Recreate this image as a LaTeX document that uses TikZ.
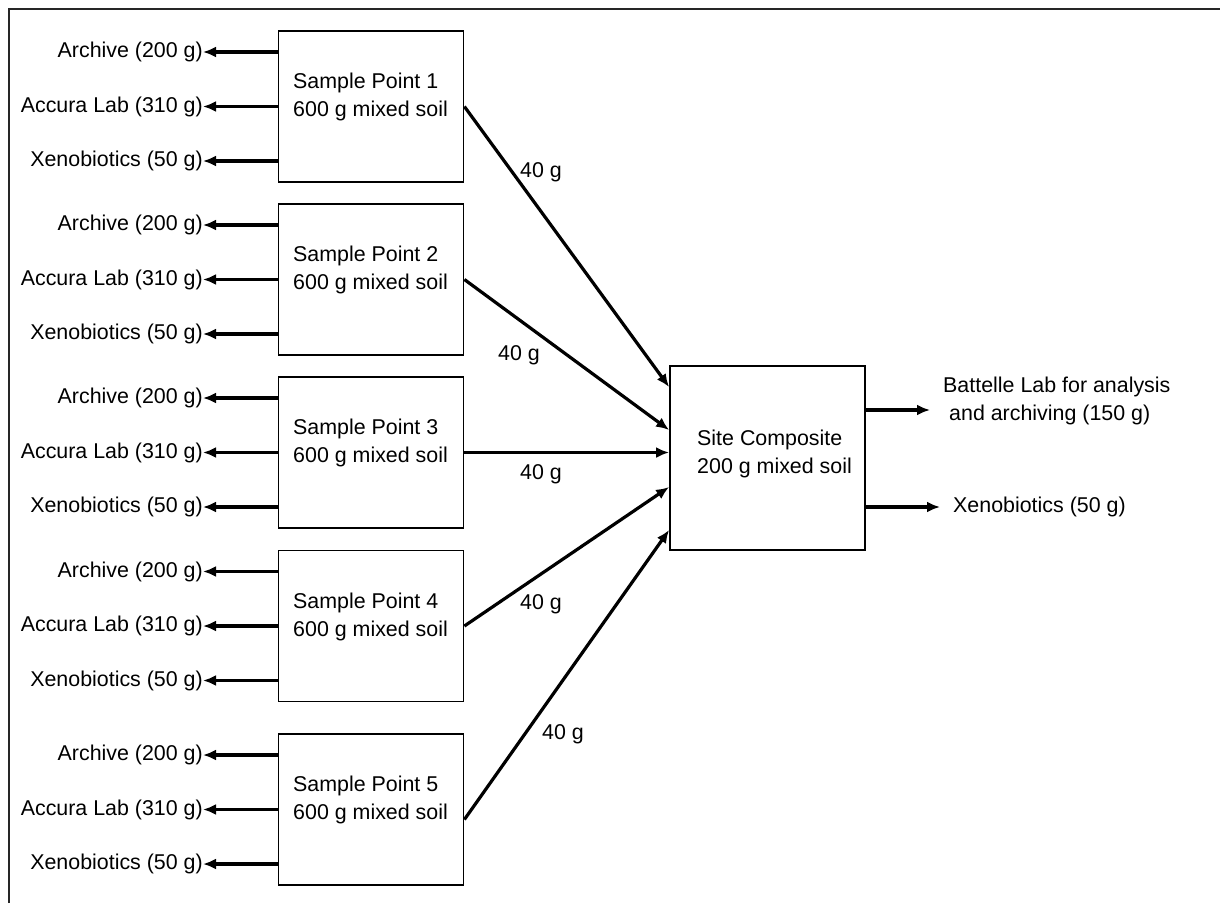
\documentclass[tikz,border=0pt]{standalone}
\usepackage{fontspec}
\setmainfont{Liberation Sans}
\usetikzlibrary{arrows.meta,calc}
\begin{document}
\begin{tikzpicture}[x=1pt,y=-1pt,
  every node/.style={font=\fontsize{21.4}{28}\selectfont},
  box/.style={draw, line width=1.8pt, minimum width=185pt, minimum height=151pt, inner sep=0pt},
  bigbox/.style={draw, line width=1.8pt, minimum width=195pt, minimum height=184pt, inner sep=0pt},
  boxtext/.style={anchor=west, align=left, inner sep=0pt},
  outlab/.style={anchor=east, inner sep=0pt},
  wlab/.style={inner sep=0pt},
  arr/.style={line width=3.2pt, -{Latex[length=13pt,width=11pt]}},
  frame/.style={line width=2.2pt, black!85}
]
\useasboundingbox (0,0) rectangle (1220,903);
\draw[frame] (9,903) -- (9,9) -- (1220,9);

% sample boxes
\foreach \i/\y in {1/106.5, 2/279.5, 3/452.5, 4/626, 5/809.5}{
  \node[box] (b\i) at (371,\y) {};
  \node[boxtext] (t\i) at (293,\y-9.5) {Sample Point \i\\600 g mixed soil};
  \node[outlab] (a\i) at (203,\y-54.5) {Archive (200 g)};
  \node[outlab] (c\i) at (203,\y) {Accura Lab (310 g)};
  \node[outlab] (x\i) at (203,\y+54.5) {Xenobiotics (50 g)};
  \draw[arr] (b\i.west |- a\i.east) -- (a\i.east);
  \draw[arr] (b\i.west |- c\i.east) -- (c\i.east);
  \draw[arr] (b\i.west |- x\i.east) -- (x\i.east);
}

% site composite
\node[bigbox] (sc) at (767.5,458) {};
\node[boxtext] (sct) at (697,454) {Site Composite\\200 g mixed soil};

\draw[arr] (b1.east) -- ($(sc.west)+(0,-71)$);
\draw[arr] (b2.east) -- ($(sc.west)+(0,-28)$);
\draw[arr] (b3.east) -- (sc.west |- b3.east);
\draw[arr] (b4.east) -- ($(sc.west)+(0,29)$);
\draw[arr] ($(b5.east)+(0,10)$) -- ($(sc.west)+(0,72)$);

\node[wlab] (g1) at (541,172) {40 g};
\node[wlab] (g2) at (519,355) {40 g};
\node[wlab] (g3) at (541,474) {40 g};
\node[wlab] (g4) at (541,604) {40 g};
\node[wlab] (g5) at (563,734) {40 g};

% outputs
\node[anchor=west, align=left, inner xsep=13pt, inner ysep=0pt] (bat) at (930,400.5) {Battelle Lab for analysis\\\hspace{6pt}and archiving (150 g)};
\node[anchor=west, inner xsep=13pt, inner ysep=0pt] (xo) at (940,507) {Xenobiotics (50 g)};
\draw[arr] (sc.east |- 0,410) -- (bat.west |- 0,410);
\draw[arr] (sc.east |- xo.west) -- (xo.west);
\end{tikzpicture}
\end{document}
